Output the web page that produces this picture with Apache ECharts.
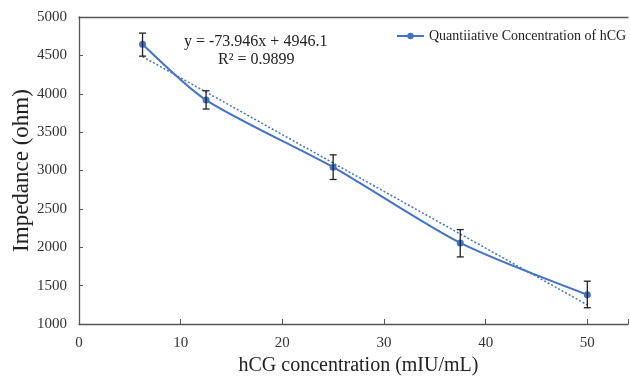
<!DOCTYPE html>
<html><head><meta charset="utf-8">
<script src="https://cdn.jsdelivr.net/npm/echarts@6/dist/echarts.min.js"></script>
<style>html,body{margin:0;padding:0;background:#fff}#c{width:630px;height:378px}</style>
</head><body><div id="c"></div>
<script>
const concentrations = [6.25, 12.5, 25, 37.5, 50];
const impedance = [4645, 3918, 3043, 2056, 1381];
const errLow = [4490, 3801, 2883, 1874, 1212];
const errHigh = [4790, 4039, 3204, 2230, 1558];
const trendX = [6.25, 50];
const trendY = [4484, 1249];
const xTicks = [0, 10, 20, 30, 40, 50];
const seriesName = 'Quantiiative Concentration of hCG';
const equationText = 'y = -73.946x + 4946.1';
const r2Text = 'R² = 0.9899';

const blue = '#4472C4';
const font = 'Liberation Serif';
const chart = echarts.init(document.getElementById('c'));
chart.setOption({
  animation: false,
  grid: {left: 79, top: 17, right: 2, bottom: 54, containLabel: false, outerBoundsMode: 'none'},
  legend: {
    data: [seriesName], left: 396, top: 29, padding: 0, itemWidth: 27, itemHeight: 8, itemGap: 4,
    textStyle: {fontFamily: font, fontSize: 14, color: '#222'}
  },
  xAxis: [{
    type: 'value', min: 0, max: 54, interval: 10,
    name: 'hCG concentration (mIU/mL)', nameLocation: 'middle', nameGap: 32, nameMoveOverlap: false,
    nameTextStyle: {fontFamily: font, fontSize: 20, color: '#222', padding: [0, 0, 0, 10]},
    axisLine: {lineStyle: {color: '#555', width: 1.3}},
    axisTick: {inside: true, length: 5, lineStyle: {color: '#555'},
      interval: (i, v) => xTicks.includes(Number(v))},
    axisLabel: {fontFamily: font, fontSize: 15, color: '#333', margin: 12,
      formatter: v => xTicks.includes(v) ? String(v) : ''},
    splitLine: {show: false}
  }, {
    type: 'value', min: 0, max: 54, position: 'top',
    axisLine: {show: true, lineStyle: {color: '#555', width: 1.3}},
    axisTick: {show: false}, axisLabel: {show: false}, splitLine: {show: false}
  }],
  yAxis: {
    type: 'value', min: 1000, max: 5000, interval: 500,
    name: 'Impedance (ohm)', nameLocation: 'middle', nameGap: 46, nameMoveOverlap: false,
    nameTextStyle: {fontFamily: font, fontSize: 23, color: '#222'},
    axisLine: {show: true, lineStyle: {color: '#555', width: 1.3}},
    axisTick: {show: true, inside: true, length: 4, lineStyle: {color: '#555'}},
    axisLabel: {fontFamily: font, fontSize: 15, color: '#333', margin: 12,
      formatter: v => String(v)},
    splitLine: {show: false}
  },
  graphic: [
    {type: 'text', left: 184, top: 34, style: {text: equationText, font: '16px "Liberation Serif"', fill: '#222'}},
    {type: 'text', left: 218, top: 52, style: {text: r2Text, font: '16px "Liberation Serif"', fill: '#222'}}
  ],
  series: [
    {
      name: 'trend', type: 'line', xAxisIndex: 0, data: trendX.map((x, i) => [x, trendY[i]]),
      showSymbol: false, symbol: 'none', silent: true,
      lineStyle: {color: blue, width: 1.5, type: [2, 2]}, z: 2
    },
    {
      name: seriesName, type: 'line', xAxisIndex: 0, data: concentrations.map((x, i) => [x, impedance[i]]),
      smooth: 0.25, symbol: 'circle', symbolSize: 7,
      itemStyle: {color: blue}, lineStyle: {color: blue, width: 2}, z: 3
    },
    {
      name: 'err', type: 'custom', xAxisIndex: 0, z: 4, silent: true,
      data: concentrations.map((x, i) => [x, errLow[i], errHigh[i]]),
      renderItem: (params, api) => {
        const lo = api.coord([api.value(0), api.value(1)]);
        const hi = api.coord([api.value(0), api.value(2)]);
        const w = 3.5;
        const st = {stroke: '#222', lineWidth: 1.3};
        return {type: 'group', children: [
          {type: 'line', shape: {x1: lo[0], y1: lo[1], x2: hi[0], y2: hi[1]}, style: st},
          {type: 'line', shape: {x1: lo[0]-w, y1: lo[1], x2: lo[0]+w, y2: lo[1]}, style: st},
          {type: 'line', shape: {x1: hi[0]-w, y1: hi[1], x2: hi[0]+w, y2: hi[1]}, style: st}
        ]};
      }
    }
  ]
});
</script></body></html>
